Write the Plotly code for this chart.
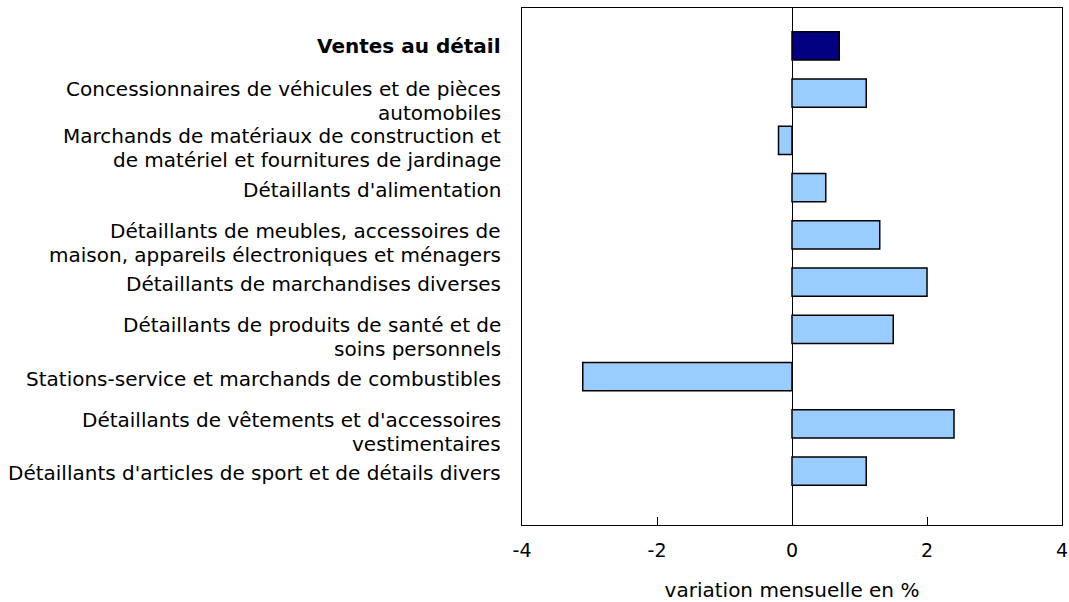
import plotly.graph_objects as go

categories = [
    "<b>Ventes au détail</b>",
    "Concessionnaires de véhicules et de pièces<br>automobiles",
    "Marchands de matériaux de construction et<br>de matériel et fournitures de jardinage",
    "Détaillants d'alimentation",
    "Détaillants de meubles, accessoires de<br>maison, appareils électroniques et ménagers",
    "Détaillants de marchandises diverses",
    "Détaillants de produits de santé et de<br>soins personnels",
    "Stations-service et marchands de combustibles",
    "Détaillants de vêtements et d'accessoires<br>vestimentaires",
    "Détaillants d'articles de sport et de détails divers",
]
values = [0.7, 1.1, -0.2, 0.5, 1.3, 2.0, 1.5, -3.1, 2.4, 1.1]
colors = ["#000080"] + ["#99CCFF"] * 9
x_ticks = [-4, -2, 0, 2, 4]

positions = list(range(len(categories)))
FONT = "DejaVu Sans, Verdana, sans-serif"

fig = go.Figure()
fig.add_trace(go.Bar(
    x=values, y=positions, orientation="h",
    marker=dict(color=colors, line=dict(color="black", width=1.5)),
    width=0.6, hoverinfo="x",
))

for pos, label in zip(positions, categories):
    lines = label.split("<br>")
    if len(lines) == 2:
        shifts = [4, -20]
    elif label.startswith("<b>"):
        shifts = [0]
    else:
        shifts = [-2]
    for line, ys in zip(lines, shifts):
        fig.add_annotation(
            x=0, xref="paper", y=pos, yref="y",
            text=line, showarrow=False,
            xanchor="right", yanchor="middle", align="right",
            xshift=-19, yshift=ys,
            font=dict(family=FONT, size=20, color="black"),
        )

fig.update_layout(
    width=1069, height=602,
    margin=dict(l=522, r=7, t=8, b=77, autoexpand=False),
    plot_bgcolor="white", paper_bgcolor="white",
    font=dict(family=FONT, size=19, color="black"),
    showlegend=False,
)
fig.update_xaxes(
    range=[-4, 4], tickvals=x_ticks, ticktext=[str(t) for t in x_ticks],
    showgrid=False, zeroline=True, zerolinecolor="black", zerolinewidth=1,
    showline=True, linecolor="black", linewidth=1, mirror=True,
    ticks="inside", ticklen=8, tickcolor="black",
    ticklabelstandoff=8,
    title=dict(text="variation mensuelle en %", standoff=29, font=dict(size=20)),
    automargin=False,
)
fig.update_yaxes(
    range=[10.14, -0.8], tickvals=positions, showticklabels=False,
    showgrid=False, zeroline=False,
    showline=True, linecolor="black", linewidth=1, mirror=True,
    ticks="", automargin=False,
)

fig.write_html(
    "out.html",
    config={"displayModeBar": False},
    post_script="document.body.style.margin='0';document.body.style.overflow='hidden';",
)
